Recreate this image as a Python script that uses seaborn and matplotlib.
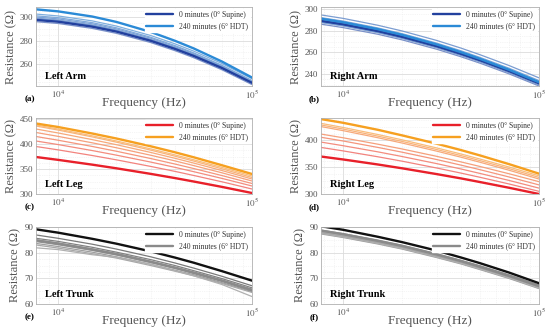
import numpy as np
import pandas as pd
import seaborn as sns
import matplotlib.pyplot as plt
from matplotlib.lines import Line2D
from matplotlib.colors import to_rgb
from matplotlib.ticker import LogLocator, NullFormatter, AutoMinorLocator

sns.set_style('white')
plt.rcParams['font.family'] = ['Liberation Serif', 'DejaVu Serif']
plt.rcParams['mathtext.fontset'] = 'stix'

# frequencies (Hz) and time points (minutes)
freq = [7700, 10000, 15000, 20000, 30000, 40000, 50000, 70000, 100000]
minutes = [0, 30, 60, 90, 120, 150, 180, 210, 240]

left_arm = [
    [297.5, 296.0, 291.8, 287.6, 279.8, 272.9, 266.9, 256.6, 244.0],
    [296.0, 294.5, 290.3, 286.1, 278.3, 271.4, 265.4, 255.1, 242.5],
    [298.5, 297.0, 292.8, 288.6, 280.8, 273.9, 267.9, 257.6, 245.0],
    [299.0, 297.4, 293.2, 288.9, 281.0, 273.9, 267.8, 257.3, 244.5],
    [300.0, 298.4, 294.2, 289.9, 282.0, 274.9, 268.8, 258.3, 245.5],
    [301.0, 299.4, 295.2, 290.8, 282.8, 275.7, 269.5, 258.9, 246.0],
    [302.5, 300.9, 296.7, 292.3, 284.3, 277.2, 271.0, 260.4, 247.5],
    [298.0, 296.4, 292.3, 288.0, 280.1, 273.2, 267.1, 256.7, 244.0],
    [306.5, 304.8, 300.4, 295.8, 287.3, 279.8, 273.3, 262.1, 248.5],
]
right_arm = [
    [289.0, 285.8, 279.6, 274.3, 265.7, 258.6, 252.7, 242.9, 231.5],
    [286.0, 282.8, 276.7, 271.5, 262.9, 255.9, 250.0, 240.3, 229.0],
    [287.5, 284.3, 278.1, 272.8, 264.2, 257.1, 251.2, 241.4, 230.0],
    [294.5, 291.3, 285.0, 279.7, 271.0, 263.9, 257.8, 248.0, 236.5],
    [292.0, 288.8, 282.5, 277.2, 268.5, 261.4, 255.3, 245.5, 234.0],
    [290.0, 286.8, 280.6, 275.3, 266.7, 259.6, 253.7, 243.9, 232.5],
    [288.0, 284.8, 278.7, 273.5, 264.9, 257.9, 252.0, 242.3, 231.0],
    [291.5, 288.2, 281.9, 276.6, 267.8, 260.6, 254.5, 244.6, 233.0],
    [291.0, 287.7, 281.4, 276.1, 267.3, 260.1, 254.0, 244.1, 232.5],
]
left_leg = [
    [374.0, 368.3, 358.7, 351.4, 340.3, 331.9, 325.0, 314.2, 302.0],
    [395.0, 388.3, 377.0, 368.3, 355.2, 345.3, 337.1, 324.4, 310.0],
    [406.0, 398.9, 386.9, 377.7, 363.9, 353.4, 344.7, 331.2, 316.0],
    [415.0, 407.6, 395.1, 385.5, 371.0, 360.0, 351.0, 336.9, 321.0],
    [423.0, 415.3, 402.4, 392.5, 377.6, 366.3, 356.9, 342.4, 326.0],
    [430.0, 422.1, 408.8, 398.6, 383.2, 371.5, 361.9, 346.9, 330.0],
    [436.0, 427.9, 414.2, 403.7, 387.8, 375.7, 365.9, 350.4, 333.0],
    [438.0, 429.9, 416.4, 406.0, 390.3, 378.3, 368.5, 353.2, 336.0],
    [441.0, 434.0, 421.0, 411.0, 395.5, 383.5, 373.5, 357.5, 340.0],
]
right_leg = [
    [370.0, 364.5, 355.2, 348.0, 337.2, 329.1, 322.3, 311.8, 300.0],
    [387.0, 380.5, 369.6, 361.3, 348.6, 339.0, 331.2, 318.9, 305.0],
    [397.0, 390.2, 378.8, 370.0, 356.8, 346.7, 338.4, 325.5, 311.0],
    [406.0, 399.0, 387.1, 378.1, 364.4, 353.9, 345.4, 332.0, 317.0],
    [412.0, 405.0, 393.1, 384.1, 370.4, 359.9, 351.4, 338.0, 323.0],
    [426.0, 418.3, 405.2, 395.2, 380.1, 368.7, 359.3, 344.6, 328.0],
    [429.0, 421.3, 408.2, 398.2, 383.1, 371.7, 362.3, 347.6, 331.0],
    [432.0, 424.3, 411.2, 401.2, 386.1, 374.7, 365.3, 350.6, 334.0],
    [440.0, 433.0, 420.0, 409.5, 394.0, 382.0, 372.0, 356.0, 338.0],
]
left_trunk = [
    [89.1, 87.8, 85.4, 83.5, 80.5, 78.1, 76.1, 72.8, 69.1],
    [86.9, 85.6, 83.3, 81.4, 78.4, 76.0, 74.0, 70.8, 67.1],
    [85.6, 84.4, 82.1, 80.2, 77.3, 75.0, 73.0, 69.9, 66.3],
    [85.0, 83.8, 81.5, 79.7, 76.7, 74.4, 72.5, 69.4, 65.8],
    [84.3, 83.1, 80.9, 79.1, 76.2, 73.9, 72.1, 69.0, 65.5],
    [83.6, 82.4, 80.2, 78.4, 75.5, 73.2, 71.4, 68.3, 64.8],
    [83.0, 81.8, 79.6, 77.9, 75.0, 72.8, 71.0, 68.0, 64.5],
    [81.9, 81.2, 79.2, 78.2, 75.5, 73.0, 71.0, 67.6, 62.9],
    [84.8, 83.5, 81.2, 79.4, 76.4, 74.1, 72.1, 69.0, 65.3],
]
right_trunk = [
    [90.3, 88.9, 86.2, 84.1, 80.8, 78.1, 75.9, 72.3, 68.1],
    [88.4, 87.0, 84.5, 82.5, 79.2, 76.6, 74.5, 71.0, 67.0],
    [87.6, 86.2, 83.7, 81.7, 78.4, 75.9, 73.7, 70.3, 66.3],
    [88.8, 87.4, 84.9, 82.9, 79.6, 77.0, 74.9, 71.4, 67.4],
    [87.9, 86.5, 84.0, 82.0, 78.7, 76.2, 74.0, 70.6, 66.6],
    [87.3, 85.9, 83.4, 81.4, 78.1, 75.6, 73.4, 70.0, 66.0],
    [88.0, 86.6, 84.1, 82.1, 78.9, 76.3, 74.2, 70.8, 66.8],
    [87.5, 86.1, 83.6, 81.6, 78.3, 75.8, 73.6, 70.2, 66.2],
    [88.6, 87.2, 84.6, 82.6, 79.3, 76.7, 74.5, 71.0, 67.0],
]

panels = [
    # data, name, letter, start colour, end colour, ylim, yticks, pixel box (left, top, right, bottom)
    (left_arm, 'Left Arm', '(a)', '#22409e', '#2b8ad6', (241.3, 308.5), [260, 280, 300], (36, 7, 252, 86)),
    (right_arm, 'Right Arm', '(b)', '#22409e', '#2b8ad6', (229, 301.8), [240, 260, 280, 300], (321, 7, 539, 86)),
    (left_leg, 'Left Leg', '(c)', '#e8202a', '#f6a020', (300, 452), [300, 350, 400, 450], (36, 118, 252, 194)),
    (right_leg, 'Right Leg', '(d)', '#e8202a', '#f6a020', (300, 442), [300, 350, 400], (321, 118, 539, 194)),
    (left_trunk, 'Left Trunk', '(e)', '#111111', '#8a8a8a', (60, 90), [60, 70, 80, 90], (36, 227, 252, 304)),
    (right_trunk, 'Right Trunk', '(f)', '#111111', '#8a8a8a', (60, 90), [60, 70, 80, 90], (321, 227, 539, 304)),
]

W, H = 550, 328
fig = plt.figure(figsize=(W / 100, H / 100), dpi=100)

for data, name, letter, c0, c1, ylim, yticks, box in panels:
    l, t, r, b = box
    ax = fig.add_axes([l / W, 1 - b / H, (r - l) / W, (b - t) / H])
    rows = []
    for m, vals in zip(minutes, data):
        for f, v in zip(freq, vals):
            rows.append({'Frequency': f, 'Resistance': v, 'Minutes': m})
    df = pd.DataFrame(rows)

    a0, a1 = np.array(to_rgb(c0)), np.array(to_rgb(c1))
    pal = {}
    for i, m in enumerate(minutes):
        k = i / (len(minutes) - 1)
        col = a0 * (1 - k) + a1 * k
        if m not in (0, 240):
            col = col * 0.6 + 0.4  # lighter in-between lines
        pal[m] = tuple(col)

    mid = df[~df['Minutes'].isin([0, 240])]
    sns.lineplot(data=mid, x='Frequency', y='Resistance', hue='Minutes', palette=pal,
                 lw=0.9, ax=ax, legend=False, estimator=None)
    for m in ((240, 0) if name.endswith('Trunk') else (0, 240)):
        sns.lineplot(data=df[df['Minutes'] == m], x='Frequency', y='Resistance',
                     color=pal[m], lw=1.7, ax=ax, legend=False, estimator=None)

    ax.set_xscale('log')
    ax.set_xlim(7700, 100000)
    ax.set_ylim(*ylim)
    ax.set_xticks([1e4, 1e5])
    ax.set_xticklabels([r'$10^4$', r'$10^5$'])
    ax.xaxis.set_minor_locator(LogLocator(base=10, subs=np.arange(2, 10)))
    ax.xaxis.set_minor_formatter(NullFormatter())
    ax.set_yticks(yticks)
    ax.yaxis.set_minor_locator(AutoMinorLocator(4))
    ax.grid(True, which='major', color='#dcdcdc', lw=0.6)
    ax.grid(True, which='minor', color='#ebebeb', lw=0.5, ls=':')
    ax.set_axisbelow(True)
    for s in ax.spines.values():
        s.set_color('#b0b0b0')
        s.set_linewidth(0.6)
    ax.tick_params(which='both', direction='in', length=2, width=0.5, color='#b0b0b0',
                   labelsize=6.5, labelcolor='#555555', pad=2)
    ax.tick_params(which='minor', length=1)
    ax.set_xlabel('Frequency (Hz)', fontsize=9.5, color='#555555', labelpad=-3)
    ax.set_ylabel('Resistance (\u03a9)', fontsize=9, color='#555555', labelpad=2)

    ax.text(0.04, 0.06, name, transform=ax.transAxes, fontsize=7.5, fontweight='bold',
            ha='left', va='bottom', color='black')
    ax.text(-0.03, -0.17, letter, transform=ax.transAxes, fontsize=6.5, fontweight='bold',
            ha='center', va='center', color='black')

    handles = [Line2D([], [], color=pal[0], lw=1.7), Line2D([], [], color=pal[240], lw=1.7)]
    leg = ax.legend(handles, ['0 minutes (0\u00b0 Supine)', '240 minutes (6\u00b0 HDT)'],
                    loc='upper right', fontsize=5.5, frameon=True, framealpha=1,
                    edgecolor='white', fancybox=False, handlelength=3.5,
                    borderpad=0.2, labelspacing=0.5, borderaxespad=0.3)
    for txt in leg.get_texts():
        txt.set_color('#333333')

fig.savefig('out.png', dpi=100)
